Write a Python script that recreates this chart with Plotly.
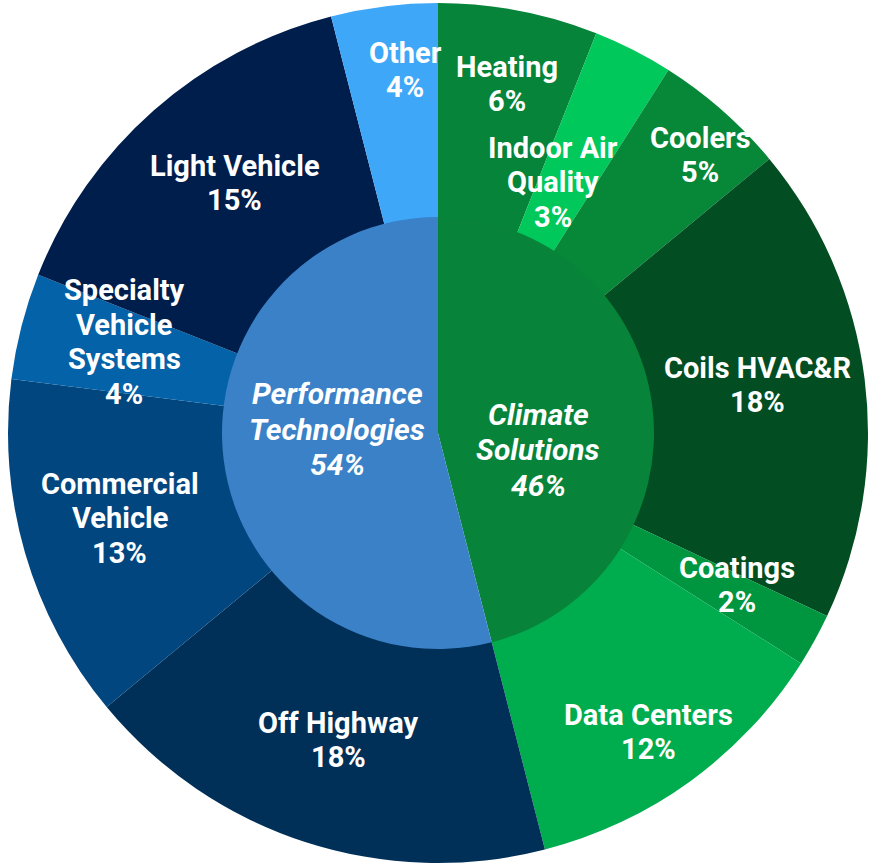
import plotly.graph_objects as go

# ---- data ----
segments = ["Performance Technologies", "Climate Solutions"]
segment_values = [54, 46]

climate_products = ["Heating", "Indoor Air Quality", "Coolers", "Coils HVAC&R", "Coatings", "Data Centers"]
climate_values = [6, 3, 5, 18, 2, 12]

perf_products = ["Off Highway", "Commercial Vehicle", "Specialty Vehicle Systems", "Light Vehicle", "Other"]
perf_values = [18, 13, 4, 15, 4]

# display label lines
outer_display = {
    "Heating": ["Heating"],
    "Indoor Air Quality": ["Indoor Air", "Quality"],
    "Coolers": ["Coolers"],
    "Coils HVAC&R": ["Coils HVAC&R"],
    "Coatings": ["Coatings"],
    "Data Centers": ["Data Centers"],
    "Off Highway": ["Off Highway"],
    "Commercial Vehicle": ["Commercial", "Vehicle"],
    "Specialty Vehicle Systems": ["Specialty", "Vehicle", "Systems"],
    "Light Vehicle": ["Light Vehicle"],
    "Other": ["Other"],
}
inner_display = {
    "Performance Technologies": ["Performance", "Technologies"],
    "Climate Solutions": ["Climate", "Solutions"],
}

# ---- styles ----
outer_colors = {
    "Heating": "#06843A",
    "Indoor Air Quality": "#00C85A",
    "Coolers": "#078838",
    "Coils HVAC&R": "#024D22",
    "Coatings": "#009640",
    "Data Centers": "#00AD4E",
    "Off Highway": "#003058",
    "Commercial Vehicle": "#02467F",
    "Specialty Vehicle Systems": "#0462A8",
    "Light Vehicle": "#001E4C",
    "Other": "#3EA7F8",
}
inner_colors = {"Performance Technologies": "#3A81C8", "Climate Solutions": "#07843A"}

# label block centre positions in pixels (page is 871 x 865)
label_px = {
    "Heating": (507, 84),
    "Indoor Air Quality": (553, 182),
    "Coolers": (700, 155),
    "Coils HVAC&R": (757, 385),
    "Coatings": (737, 585),
    "Data Centers": (648, 732),
    "Off Highway": (338, 740),
    "Commercial Vehicle": (120, 518),
    "Specialty Vehicle Systems": (124, 342),
    "Light Vehicle": (235, 183),
    "Other": (405, 70),
    "Performance Technologies": (337, 429),
    "Climate Solutions": (538, 450),
}

W, H = 871, 865
CX, CY, R = 438, 433, 430
RI = 216
OUTER_FS, OUTER_LS = 29, 34.5
INNER_FS, INNER_LS = 30, 35.5

outer_labels = climate_products + perf_products
outer_values = climate_values + perf_values
inner_labels = [segments[1], segments[0]]
inner_values = [segment_values[1], segment_values[0]]

fig = go.Figure()
fig.add_trace(go.Pie(
    labels=outer_labels,
    values=outer_values,
    sort=False,
    direction="clockwise",
    rotation=0,
    hole=0.5,
    textinfo="none",
    marker=dict(colors=[outer_colors[l] for l in outer_labels], line=dict(width=0)),
    domain=dict(x=[(CX - R) / W, (CX + R) / W], y=[(H - CY - R) / H, (H - CY + R) / H]),
    showlegend=False,
))
fig.add_trace(go.Pie(
    labels=inner_labels,
    values=inner_values,
    sort=False,
    direction="clockwise",
    rotation=0,
    textinfo="none",
    marker=dict(colors=[inner_colors[l] for l in inner_labels], line=dict(width=0)),
    domain=dict(x=[(CX - RI) / W, (CX + RI) / W], y=[(H - CY - RI) / H, (H - CY + RI) / H]),
    showlegend=False,
))

annotations = []


def add_block(lines, center, fs, ls, italic):
    n = len(lines)
    cx, cy = center
    for i, t in enumerate(lines):
        py = cy + (i - (n - 1) / 2) * ls
        font = dict(family="Roboto", size=fs, color="white", weight=700)
        if italic:
            font["style"] = "italic"
        annotations.append(dict(
            x=cx / W, y=1 - py / H, xref="paper", yref="paper",
            text=t, showarrow=False, font=font,
            xanchor="center", yanchor="middle",
        ))


for lab, val in zip(outer_labels, outer_values):
    add_block(outer_display[lab] + [f"{val}%"], label_px[lab], OUTER_FS, OUTER_LS, False)
for lab, val in zip(segments, segment_values):
    add_block(inner_display[lab] + [f"{val}%"], label_px[lab], INNER_FS, INNER_LS, True)

fig.update_layout(
    width=W, height=H,
    margin=dict(l=0, r=0, t=0, b=0),
    paper_bgcolor="white", plot_bgcolor="white",
    annotations=annotations,
)
fig.write_html("out.html")
